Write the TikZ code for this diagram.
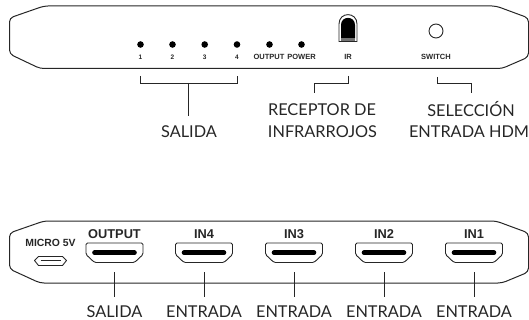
\documentclass[tikz,border=0pt]{standalone}
\usepackage{fontspec}
\setmainfont{Lato}
\newfontfamily\armfont{Liberation Sans}
\tikzset{
  x=1pt,y=-1pt,
  casing/.style={draw=black!85,line width=1pt,rounded corners=4pt,line join=round},
  leader/.style={draw=black!85,line width=0.9pt},
  captext/.style={font=\fontsize{16.3}{16.3}\selectfont,text=black!85,inner sep=0pt,anchor=center},
  smalltext/.style={font=\armfont\bfseries\fontsize{7.5}{7.5}\selectfont,text=black!85,inner sep=0pt,anchor=center},
  digittext/.style={font=\armfont\bfseries\fontsize{6.5}{6.5}\selectfont,text=black!85,inner sep=0pt,anchor=center},
  porttext/.style={font=\armfont\bfseries\fontsize{12.8}{12.8}\selectfont,text=black!85,inner sep=0pt,anchor=center},
  microtext/.style={font=\armfont\bfseries\fontsize{10.4}{10.4}\selectfont,text=black!85,inner sep=0pt,anchor=center},
  ledlamp/.style={circle,fill=black,inner sep=0pt,minimum size=6.6pt},
  hdmibody/.pic={
    \draw[draw=black!85,line width=0.9pt,rounded corners=1.5pt] (-28.5,-10) -- (28.5,-10) -- (28.5,1.5) -- (20,9.5) -- (-20,9.5) -- (-28.5,1.5) -- cycle;
    \draw[black,line width=4.6pt,line cap=round] (-20,-0.3) -- (20,-0.3);
  }
}
\begin{document}
\begin{tikzpicture}
\useasboundingbox (0,0) rectangle (529,320);
% upper body
\draw[casing] (44,6) -- (496,6) -- (528.5,18) -- (528.5,57) -- (502,68.5) -- (40,68.5) -- (9.5,54) -- (9.5,18) -- cycle;
% LEDs
\foreach \n/\x/\t in {a/140.5/1,b/172.5/2,c/204.7/3,d/237/4}{
  \node[ledlamp] (led\n) at (\x,44.5) {};
  \node[digittext] (lab\n) at (\x,57) {\t};
}
\node[ledlamp] (ledo) at (269.5,44.5) {};
\node[ledlamp] (ledp) at (301.5,44.5) {};
\node[smalltext] (labo) at (269,57) {OUTPUT};
\node[smalltext] (labp) at (301.5,57) {POWER};
% IR
\draw[draw=black!85,line width=0.9pt,fill=white] (339,41.5) -- (339,24) .. controls (339,11.5) and (357,11.5) .. (357,24) -- (357,41.5) -- cycle;
\fill[black] (341,38.5) -- (341,25) .. controls (341,15.5) and (355,15.5) .. (355,25) -- (355,38.5) -- cycle;
\fill[black!55] (341,38.5) rectangle (355,41);
\node[smalltext] (labir) at (348,57) {IR};
% switch
\node[circle,draw=black!85,line width=0.9pt,minimum size=14pt,inner sep=0pt] (sw) at (436,31) {};
\node[smalltext] (labsw) at (436,57) {SWITCH};
% upper captions
\node[captext] (salida) at (189,132) {SALIDA};
\node[captext] (rec) at (322,109.5) {RECEPTOR DE};
\node[captext] (inf) at (322.5,132) {INFRARROJOS};
\node[captext] (sel) at (471,109.5) {SELECCIÓN};
\node[captext] (ent) at (469,132) {ENTRADA HDM};
% upper leaders
\coordinate (bl) at (140.5,76);
\coordinate (br) at (237,76);
\coordinate (bm) at (188.5,83);
\coordinate (bb) at (188.5,116);
\draw[leader] (bl) -- (140.5,83) -- (237,83) -- (br);
\draw[leader] (bm) -- (bb);
\coordinate (ira) at (348,76);
\coordinate (irb) at (314,93);
\draw[leader] (ira) -- (348,83) -- (314,83) -- (irb);
\coordinate (swa) at (437,77);
\coordinate (swb) at (471,93);
\draw[leader] (swa) -- (437,83) -- (471,83) -- (swb);
% lower body
\draw[casing] (44,221) -- (496,221) -- (528.5,233) -- (528.5,272) -- (502,283) -- (40,283) -- (9.5,269) -- (9.5,233) -- cycle;
\node[microtext] (micro) at (50.5,243) {MICRO 5V};
\draw[draw=black!85,line width=0.9pt,line join=round] (38.5,256.5) -- (62.5,256.5) -- (66.5,260.5) -- (62.5,265.5) -- (38.5,265.5) -- (34.5,260.5) -- cycle;
\draw[black!85,line width=0.9pt] (40.5,260.5) -- (60.5,260.5);
% ports
\foreach \n/\x/\t/\l in {o/114.5/OUTPUT/SALIDA,d/204/IN4/ENTRADA,c/294/IN3/ENTRADA,b/384/IN2/ENTRADA,a/474/IN1/ENTRADA}{
  \pic at (\x,253) {hdmibody};
  \node[porttext] (p\n) at (\x,234) {\t};
  \coordinate (t\n) at (\x,272);
  \coordinate (u\n) at (\x,297);
  \draw[leader] (t\n) -- (u\n);
  \node[captext] (c\n) at (\x,312) {\l};
}
\end{tikzpicture}
\end{document}
